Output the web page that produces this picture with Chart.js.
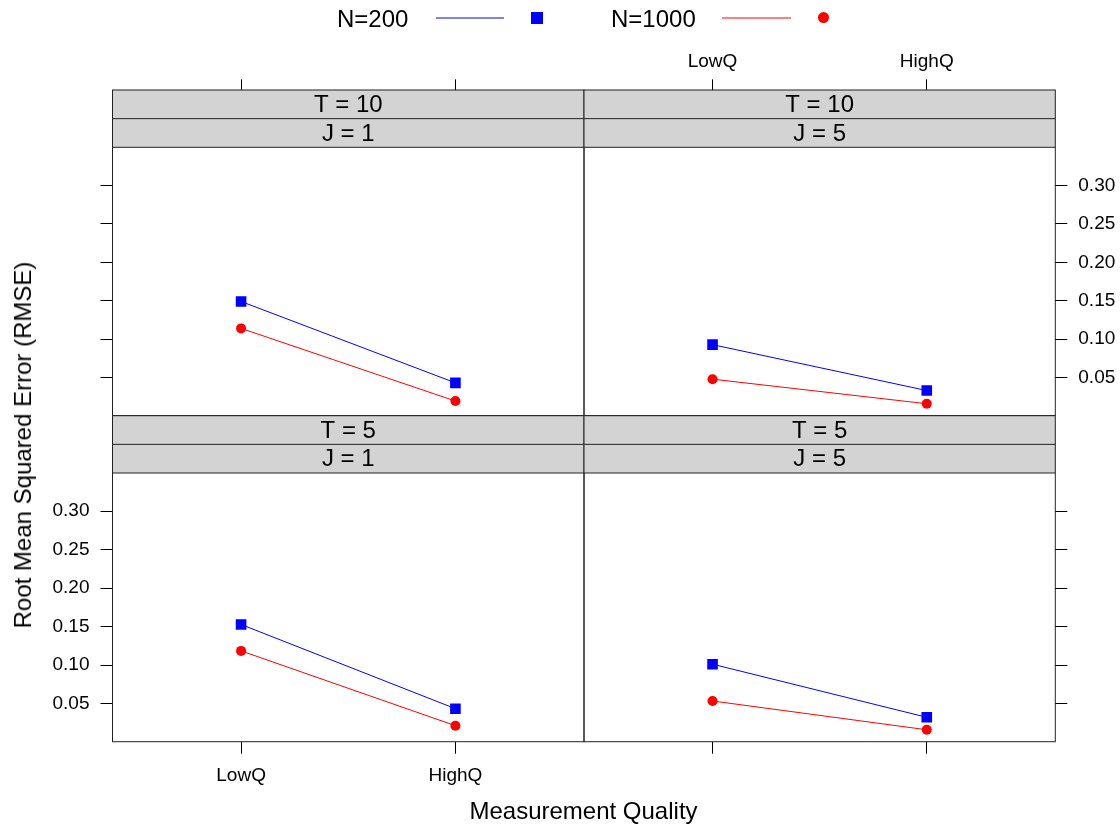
<!DOCTYPE html>
<html>
<head>
<meta charset="utf-8">
<script src="https://cdn.jsdelivr.net/npm/chart.js@4.4.1/dist/chart.umd.min.js"></script>
<style>
  html, body { margin: 0; padding: 0; background: #fff; }
  #wrap { position: relative; width: 1120px; height: 828px; overflow: hidden; font-family: "Liberation Sans", Arial, sans-serif; color: #000; }
  canvas { position: absolute; left: 0; top: 0; }
  .txt { position: absolute; line-height: 1; white-space: nowrap; font-size: 24px; }
</style>
</head>
<body>
<div id="wrap">
  <canvas id="c1" width="1120" height="828"></canvas>
  <canvas id="c2" width="1120" height="828"></canvas>
  <canvas id="c3" width="1120" height="828"></canvas>
  <canvas id="c4" width="1120" height="828"></canvas>

  <div class="txt" style="left:337px; top:18.5px; transform:translateY(-50%);">N=200</div>
  <div style="position:absolute; left:436px; top:17px; width:68px; height:2px; background:#8080ff;"></div>
  <div style="position:absolute; left:531px; top:12px; width:12px; height:12px; background:#0000ff;"></div>
  <div class="txt" style="left:611px; top:18.5px; transform:translateY(-50%);">N=1000</div>
  <div style="position:absolute; left:722px; top:17px; width:69px; height:2px; background:#ff8080;"></div>
  <div style="position:absolute; left:817.5px; top:12px; width:11px; height:11px; border-radius:50%; background:#ff0000;"></div>

  <div class="txt" style="left:23px; top:445px; transform:translate(-50%,-50%) rotate(-90deg);">Root Mean Squared Error (RMSE)</div>
  <div class="txt" style="left:583.5px; top:811px; transform:translate(-50%,-50%);">Measurement Quality</div>
</div>
<script>
// ---- data ----
const categories = ['LowQ', 'HighQ'];
const xPositions = [1, 2];
const yTicks = [0.05, 0.10, 0.15, 0.20, 0.25, 0.30];
const seriesNames = ['N=200', 'N=1000'];

const n200_T10_J1  = [0.149, 0.0431];
const n1000_T10_J1 = [0.114, 0.0194];
const n200_T10_J5  = [0.0928, 0.0331];
const n1000_T10_J5 = [0.0479, 0.0159];
const n200_T5_J1   = [0.1529, 0.0435];
const n1000_T5_J1  = [0.1186, 0.0214];
const n200_T5_J5   = [0.1013, 0.0323];
const n1000_T5_J5  = [0.0535, 0.0161];

// ---- layout ----
const W = 1120, H = 828;
const FONT = '"Liberation Sans", Arial, sans-serif';
const Y_MIN = 0.0006, Y_MAX = 0.3497;
const X_MIN = 0.4, X_MAX = 2.6;
const STRIP_H = 28.65;
const AX = 100; // fixed axis box size

Chart.defaults.font.family = FONT;
Chart.defaults.color = '#000';

const panelDecor = {
  id: 'panelDecor',
  afterDraw(chart, args, opts) {
    const ctx = chart.ctx, a = chart.chartArea;
    const w = a.right - a.left;
    const top = a.top - 2 * STRIP_H;
    ctx.save();
    ctx.fillStyle = '#d3d3d3';
    ctx.fillRect(a.left, top, w, 2 * STRIP_H);
    ctx.strokeStyle = '#222';
    ctx.lineWidth = 1;
    ctx.beginPath();
    ctx.moveTo(a.left, top + STRIP_H); ctx.lineTo(a.right, top + STRIP_H);
    ctx.moveTo(a.left, a.top); ctx.lineTo(a.right, a.top);
    ctx.stroke();
    ctx.strokeRect(a.left, top, w, a.bottom - top);
    ctx.fillStyle = '#000';
    ctx.font = '24px ' + FONT;
    ctx.textAlign = 'center';
    ctx.textBaseline = 'middle';
    const cx = (a.left + a.right) / 2;
    ctx.fillText(opts.labels[0], cx, top + STRIP_H / 2 + 1);
    ctx.fillText(opts.labels[1], cx, top + 1.5 * STRIP_H + 1);
    ctx.restore();
  }
};

function makePanel(id, box, s200, s1000, strips, xPos, xLabels, yPos, yLabels) {
  const xTickLen = xPos === 'top' ? 68 : 12;
  const pad = {
    left: yPos === 'left' ? box.L - AX : box.L,
    right: yPos === 'right' ? W - box.R - AX : W - box.R,
    top: xPos === 'top' ? box.T - AX : box.T,
    bottom: xPos === 'bottom' ? H - box.B - AX : H - box.B
  };
  const mk = arr => arr.map((v, i) => ({ x: xPositions[i], y: v }));
  new Chart(document.getElementById(id), {
    type: 'line',
    data: {
      datasets: [
        { label: seriesNames[0], data: mk(s200), borderColor: '#0000ff', backgroundColor: '#0000ff',
          borderWidth: 1, pointStyle: 'rect', pointRadius: 7.5, pointBorderWidth: 0, pointHoverRadius: 7.5 },
        { label: seriesNames[1], data: mk(s1000), borderColor: '#ff0000', backgroundColor: '#ff0000',
          borderWidth: 1, pointStyle: 'circle', pointRadius: 5, pointBorderWidth: 0, pointHoverRadius: 5 }
      ]
    },
    options: {
      responsive: false,
      animation: false,
      devicePixelRatio: 1,
      layout: { padding: pad },
      plugins: { legend: { display: false }, tooltip: { enabled: false }, panelDecor: { labels: strips } },
      scales: {
        x: {
          type: 'linear', position: xPos, min: X_MIN, max: X_MAX,
          border: { display: false },
          grid: { display: true, drawOnChartArea: false, drawTicks: true, tickLength: xTickLen, color: '#000', tickColor: '#000', lineWidth: 1 },
          ticks: {
            display: xLabels, padding: xPos === 'top' ? 6 : 11,
            font: { size: 19 }, color: '#000', maxRotation: 0, minRotation: 0,
            callback: v => { const i = xPositions.indexOf(v); return i >= 0 ? categories[i] : ''; }
          },
          afterBuildTicks: s => { s.ticks = xPositions.map(v => ({ value: v })); },
          afterFit: s => { s.height = AX; }
        },
        y: {
          type: 'linear', position: yPos, min: Y_MIN, max: Y_MAX,
          border: { display: false },
          grid: { display: true, drawOnChartArea: false, drawTicks: true, tickLength: 12, color: '#000', tickColor: '#000', lineWidth: 1 },
          ticks: {
            display: yLabels, padding: 11, font: { size: 19 }, color: '#000',
            callback: v => v.toFixed(2)
          },
          afterBuildTicks: s => { s.ticks = yTicks.map(v => ({ value: v })); },
          afterFit: s => { s.width = AX; }
        }
      }
    },
    plugins: [panelDecor]
  });
}

const TOP = { T: 147.3, B: 415.5 }, BOT = { T: 473, B: 741.7 };
const LEFT = { L: 112.5, R: 584 }, RIGHT = { L: 584, R: 1055.3 };

makePanel('c1', { ...LEFT, ...TOP },  n200_T10_J1, n1000_T10_J1, ['T = 10', 'J = 1'], 'top', false, 'left', false);
makePanel('c2', { ...RIGHT, ...TOP }, n200_T10_J5, n1000_T10_J5, ['T = 10', 'J = 5'], 'top', true, 'right', true);
makePanel('c3', { ...LEFT, ...BOT },  n200_T5_J1,  n1000_T5_J1,  ['T = 5', 'J = 1'],  'bottom', true, 'left', true);
makePanel('c4', { ...RIGHT, ...BOT }, n200_T5_J5,  n1000_T5_J5,  ['T = 5', 'J = 5'],  'bottom', false, 'right', false);
</script>
</body>
</html>
